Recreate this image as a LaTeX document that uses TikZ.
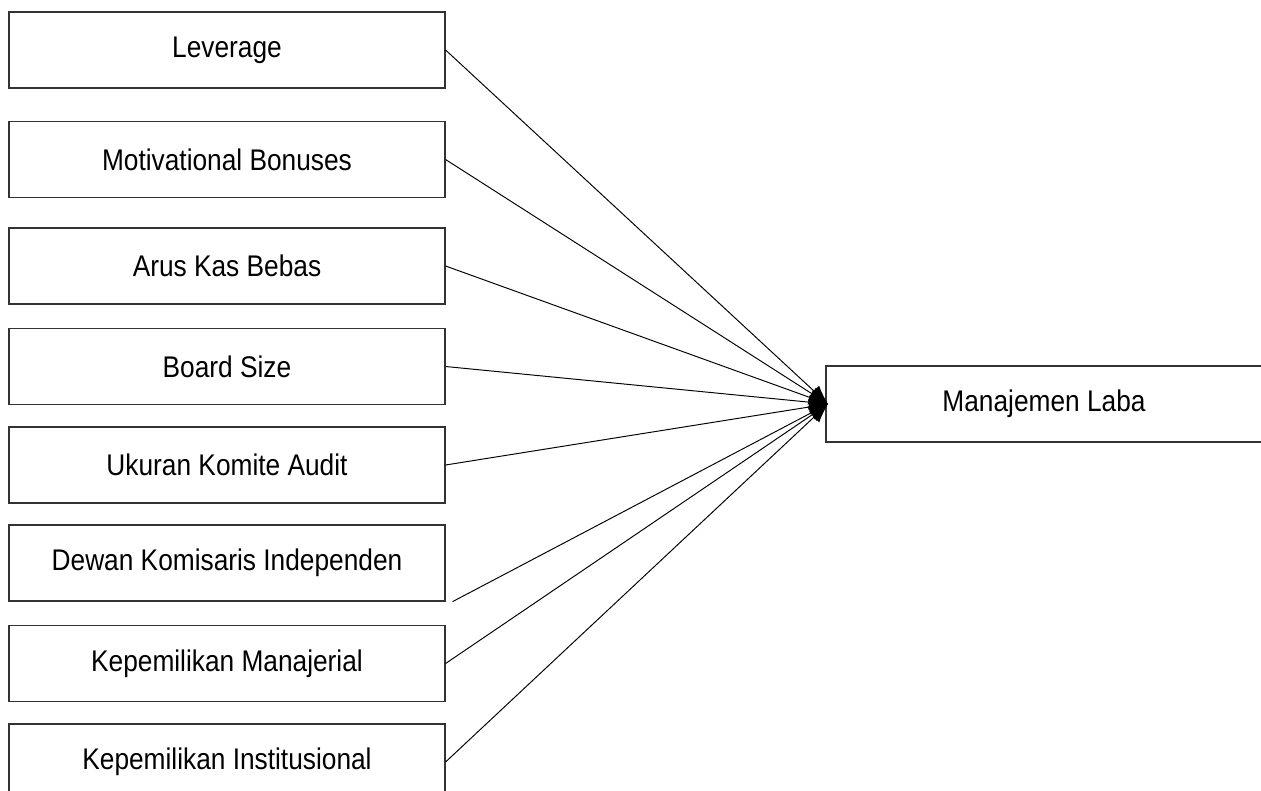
\documentclass[tikz,border=0pt]{standalone}
\usepackage{fontspec}
\setmainfont{Liberation Sans}[FakeStretch=0.88]
\usepackage{tikz}
\usetikzlibrary{arrows.meta, positioning}
\tikzstyle{varbox} = [rectangle, minimum width=8.72cm, minimum height=1.52cm, text centered, draw=black!80, line width=0.7pt, font=\fontsize{17}{20}\selectfont]
\tikzstyle{arrow} = [line width=0.55pt, -{Latex[length=0.38cm, width=0.3cm]}, black]

\begin{document}
\begin{tikzpicture}[x=0.02cm, y=-0.02cm]
\useasboundingbox (0,0) rectangle (1261,791);

% Independent variables
\node[varbox] (leverage) at (227,50) {Leverage};
\node[varbox] (bonus) at (227,159.5) {Motivational Bonuses};
\node[varbox] (aruskas) at (227,266) {Arus Kas Bebas};
\node[varbox] (board) at (227,366.5) {Board Size};
\node[varbox] (komite) at (227,465) {Ukuran Komite Audit};
\node[varbox] (dewan) at (227,563) {Dewan Komisaris Independen};
\node[varbox] (manajerial) at (227,663.5) {Kepemilikan Manajerial};
\node[varbox] (institusi) at (227,762) {Kepemilikan Institusional};

% Dependent variable (runs off the right edge)
\node[varbox] (laba) at (1044,404) {Manajemen Laba};
\coordinate (tip) at (828,404);

% Arrows into the dependent variable
\draw[arrow] (leverage.east) -- (tip);
\draw[arrow] (bonus.east) -- (tip);
\draw[arrow] (aruskas.east) -- (tip);
\draw[arrow] (board.east) -- (tip);
\draw[arrow] (komite.east) -- (tip);
\draw[arrow] ([xshift=4]dewan.south east) -- (tip);
\draw[arrow] (manajerial.east) -- (tip);
\draw[arrow] (institusi.east) -- (tip);
\end{tikzpicture}
\end{document}
